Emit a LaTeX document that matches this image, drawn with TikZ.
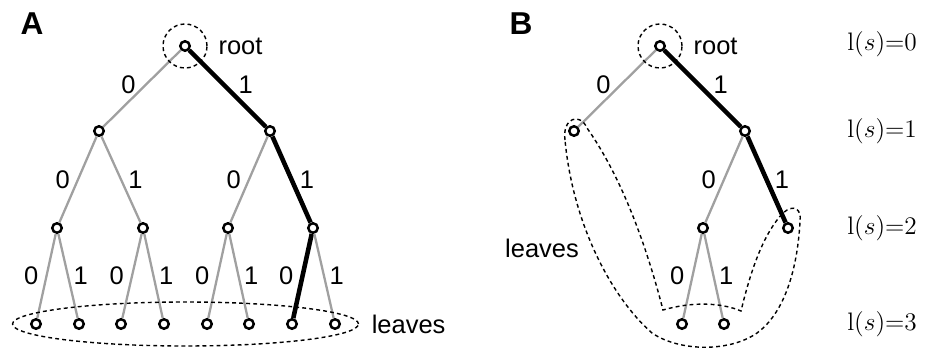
\documentclass[tikz,border=0pt]{standalone}
\usepackage[no-math]{fontspec}
\setmainfont{Liberation Sans}
\usepackage{tikz}
\usetikzlibrary{positioning,calc,shapes}
\definecolor{edgegray}{RGB}{160,160,160}
\tikzset{
  vert/.style={circle,draw,fill=white,line width=1.4pt,inner sep=0pt,minimum size=5.4pt},
  edge/.style={draw=edgegray,line width=1.3pt},
  best/.style={draw=black,line width=2.6pt},
  txt/.style={inner sep=0pt,font=\fontsize{14.5}{16}\selectfont},
  bit0/.style={txt,midway,left=4pt},
  bit1/.style={txt,midway,right=3.5pt},
  ring/.style={draw,dash pattern=on 2.2pt off 1.8pt,line width=0.8pt},
  lev/.style={inner sep=0pt,anchor=west,font=\fontsize{15}{16}\selectfont}
}

\begin{document}
\begin{tikzpicture}[x=0.02cm,y=-0.02cm]
\useasboundingbox (0,0) rectangle (925,348);

\node (labA) at (32,24) [font=\bfseries\fontsize{18}{20}\selectfont] {A};
\node (labB) at (521,24) [font=\bfseries\fontsize{18}{20}\selectfont] {B};

\node (r) at (185,46) [vert] {};
\node (m1) at (99,131) [vert] {};
\node (m2) at (270,131) [vert] {};
\node (n1) at (57,228) [vert] {};
\node (n2) at (143,228) [vert] {};
\node (n3) at (228,228) [vert] {};
\node (n4) at (313,228) [vert] {};
\node (l1) at (36,324) [vert] {};
\node (l2) at (79,324) [vert] {};
\node (l3) at (121,324) [vert] {};
\node (l4) at (164,324) [vert] {};
\node (l5) at (207,324) [vert] {};
\node (l6) at (249,324) [vert] {};
\node (l7) at (292,324) [vert] {};
\node (l8) at (335,324) [vert] {};

\draw[edge] (r) -- (m1) node[bit0,left=3pt,yshift=2pt] (a1) {0};
\draw[best] (r) -- (m2) node[bit1,right=5pt,yshift=2pt] (a2) {1};
\draw[edge] (m1) -- (n1) node[bit0] (a3) {0};
\draw[edge] (m1) -- (n2) node[bit1] (a4) {1};
\draw[edge] (m2) -- (n3) node[bit0] (a5) {0};
\draw[best] (m2) -- (n4) node[bit1] (a6) {1};
\draw[edge] (n1) -- (l1) node[bit0] (a7) {0};
\draw[edge] (n1) -- (l2) node[bit1,right=2.5pt] (a8) {1};
\draw[edge] (n2) -- (l3) node[bit0] (a9) {0};
\draw[edge] (n2) -- (l4) node[bit1,right=2.5pt] (a10) {1};
\draw[edge] (n3) -- (l5) node[bit0] (a11) {0};
\draw[edge] (n3) -- (l6) node[bit1,right=2.5pt] (a12) {1};
\draw[best] (n4) -- (l7) node[bit0] (a13) {0};
\draw[edge] (n4) -- (l8) node[bit1,right=2.5pt] (a14) {1};

\node (rc) at (r) [circle,ring,minimum size=0.88cm] {};
\node (rootA) [txt,right=6pt of rc] {root};
\node (ell) at ($(l1)!0.5!(l8)$) [ellipse,ring,minimum width=6.92cm,minimum height=0.88cm] {};
\node (leavesA) [txt,right=7pt of ell] {leaves};

\node (br) at (660,46) [vert] {};
\node (bm1) at (574,131) [vert] {};
\node (bm2) at (745,131) [vert] {};
\node (bn1) at (703,228) [vert] {};
\node (bn2) at (788,228) [vert] {};
\node (bl1) at (682,324) [vert] {};
\node (bl2) at (724,324) [vert] {};

\draw[edge] (br) -- (bm1) node[bit0,left=3pt,yshift=2pt] (b1) {0};
\draw[best] (br) -- (bm2) node[bit1,right=5pt,yshift=2pt] (b2) {1};
\draw[edge] (bm2) -- (bn1) node[bit0] (b3) {0};
\draw[best] (bm2) -- (bn2) node[bit1] (b4) {1};
\draw[edge] (bn1) -- (bl1) node[bit0] (b5) {0};
\draw[edge] (bn1) -- (bl2) node[bit1,right=2.5pt] (b6) {1};

\node (brc) at (br) [circle,ring,minimum size=0.88cm] {};
\node (rootB) [txt,right=6pt of brc] {root};
\draw[ring] (565,140) .. controls (562,118) and (580,112) .. (587,128)
  .. controls (620,175) and (645,240) .. (663,310)
  .. controls (690,302) and (720,302) .. (741,311)
  .. controls (752,265) and (765,232) .. (783,213)
  .. controls (793,204) and (802,208) .. (800,222)
  .. controls (797,275) and (782,315) .. (757,333)
  .. controls (730,352) and (680,352) .. (652,333)
  .. controls (612,298) and (573,225) .. (565,140) -- cycle;
\node (leavesB) at (542,248) [txt] {leaves};

\node (s0) at (847,44) [lev] {$\mathrm{l}(s){=}0$};
\node (s1) at (847,131) [lev] {$\mathrm{l}(s){=}1$};
\node (s2) at (847,228) [lev] {$\mathrm{l}(s){=}2$};
\node (s3) at (847,324) [lev] {$\mathrm{l}(s){=}3$};
\end{tikzpicture}
\end{document}
